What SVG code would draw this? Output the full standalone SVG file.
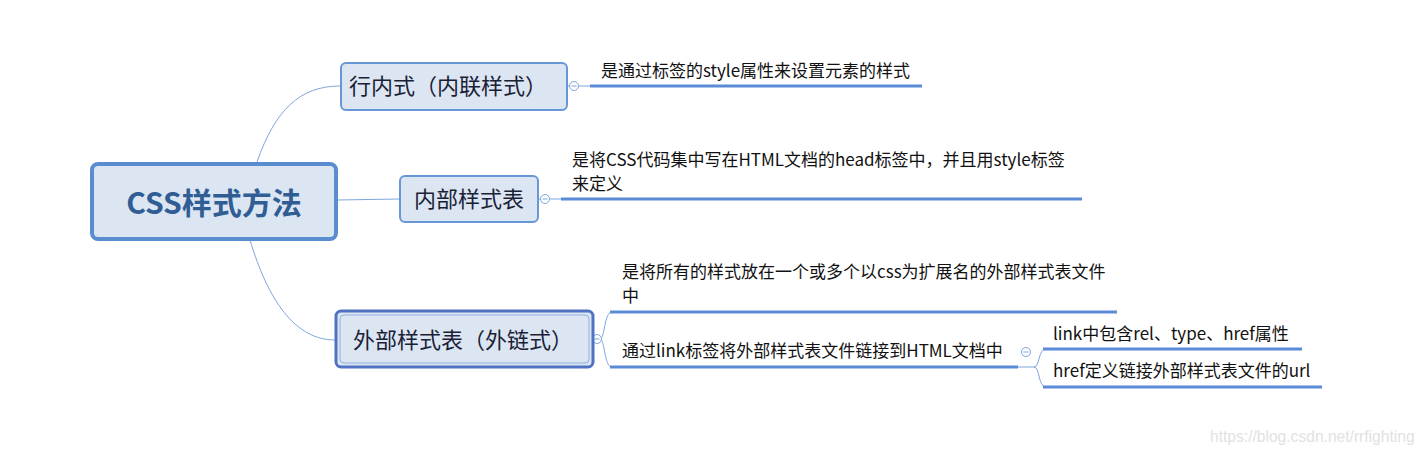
<svg xmlns="http://www.w3.org/2000/svg" width="1424" height="454" viewBox="0 0 1424 454">
<style>
.box{fill:#dce6f2;stroke:#6897d6;stroke-width:2}
.lbl{font-family:"Noto Sans CJK SC","Microsoft YaHei",sans-serif;fill:#1a2136;font-size:22px}
.leaf{font-family:"Noto Sans CJK SC",sans-serif;fill:#111;font-size:17px}
.thin{fill:none;stroke:#7ea6dc;stroke-width:1}
.thick{fill:none;stroke:#5b8bd6;stroke-width:3}
.knob{fill:#fff;stroke:#7ea6dc;stroke-width:1}
</style>
<rect width="1424" height="454" fill="#fff"/>
<g id="connectors">
<path class="thin" d="M257,162 C275,110 300,86 340,86"/>
<path class="thin" d="M337,200 L399,199"/>
<path class="thin" d="M250,240 C268,300 295,340 335,340"/>
<path class="thin" d="M567,86 L590,86"/>
<path class="thick" d="M590,86 L922,86"/>
<path class="thin" d="M538,199 L561,199"/>
<path class="thick" d="M561,199 L1082,199"/>
<path class="thin" d="M593,339 L600,339 C605,339 604,312 612,312"/>
<path class="thin" d="M600,339 C605,339 604,367 612,367"/>
<path class="thick" d="M610,312 L1117,312"/>
<path class="thick" d="M610,367 L1018,367"/>
<path class="thin" d="M1018,367 L1034,367 C1040,367 1038,349 1046,349"/>
<path class="thin" d="M1034,367 C1040,367 1038,387 1046,387"/>
<path class="thick" d="M1043,349 L1302,349"/>
<path class="thick" d="M1043,387 L1322,387"/>
<circle class="knob" cx="574" cy="86" r="4.5"/>
<circle class="knob" cx="545" cy="199" r="4.5"/>
<circle class="knob" cx="597" cy="339" r="4.5"/>
<circle class="knob" cx="1026" cy="352" r="4.5"/>
<path d="M571.5,86 h5 M542.5,199 h5 M594.5,339 h5 M1023.5,352 h5" stroke="#7ea6dc" stroke-width="1"/>
</g>
<g id="root">
<rect x="92" y="164" width="244" height="75" rx="6" fill="#dce6f2" stroke="#5a8cd0" stroke-width="4"/>
<text x="214" y="214" text-anchor="middle" font-family="'Noto Sans CJK SC',sans-serif" font-weight="bold" font-size="30" fill="#2f5d94">CSS样式方法</text>
</g>
<g id="n1">
<rect class="box" x="341" y="63" width="226" height="47" rx="5"/>
<text class="lbl" x="448" y="94" text-anchor="middle">行内式（内联样式）</text>
</g>
<g id="n2">
<rect class="box" x="400" y="176" width="138" height="46" rx="5"/>
<text class="lbl" x="469" y="207" text-anchor="middle">内部样式表</text>
</g>
<g id="n3">
<rect x="336" y="311" width="257" height="56" rx="5" fill="#dce6f2" stroke="#4f72c2" stroke-width="3"/>
<rect x="340" y="315" width="249" height="48" rx="4" fill="none" stroke="#8fb0e0" stroke-width="1"/>
<text class="lbl" x="463" y="348" text-anchor="middle">外部样式表（外链式）</text>
</g>
<g id="leaf1"><text class="leaf" x="601" y="77">是通过标签的style属性来设置元素的样式</text></g>
<g id="leaf2"><text class="leaf" x="572" y="166">是将CSS代码集中写在HTML文档的head标签中，并且用style标签</text><text class="leaf" x="572" y="190">来定义</text></g>
<g id="leaf3"><text class="leaf" x="622" y="278">是将所有的样式放在一个或多个以css为扩展名的外部样式表文件</text><text class="leaf" x="622" y="302">中</text></g>
<g id="leaf4"><text class="leaf" x="622" y="357">通过link标签将外部样式表文件链接到HTML文档中</text></g>
<g id="leaf5"><text class="leaf" x="1053" y="340">link中包含rel、type、href属性</text></g>
<g id="leaf6"><text class="leaf" x="1053" y="377">href定义链接外部样式表文件的url</text></g>
<text x="1210" y="442" font-family="'Liberation Sans',sans-serif" font-size="15.6" fill="#e2e2e2">https://blog.csdn.net/rrfighting</text>
</svg>
